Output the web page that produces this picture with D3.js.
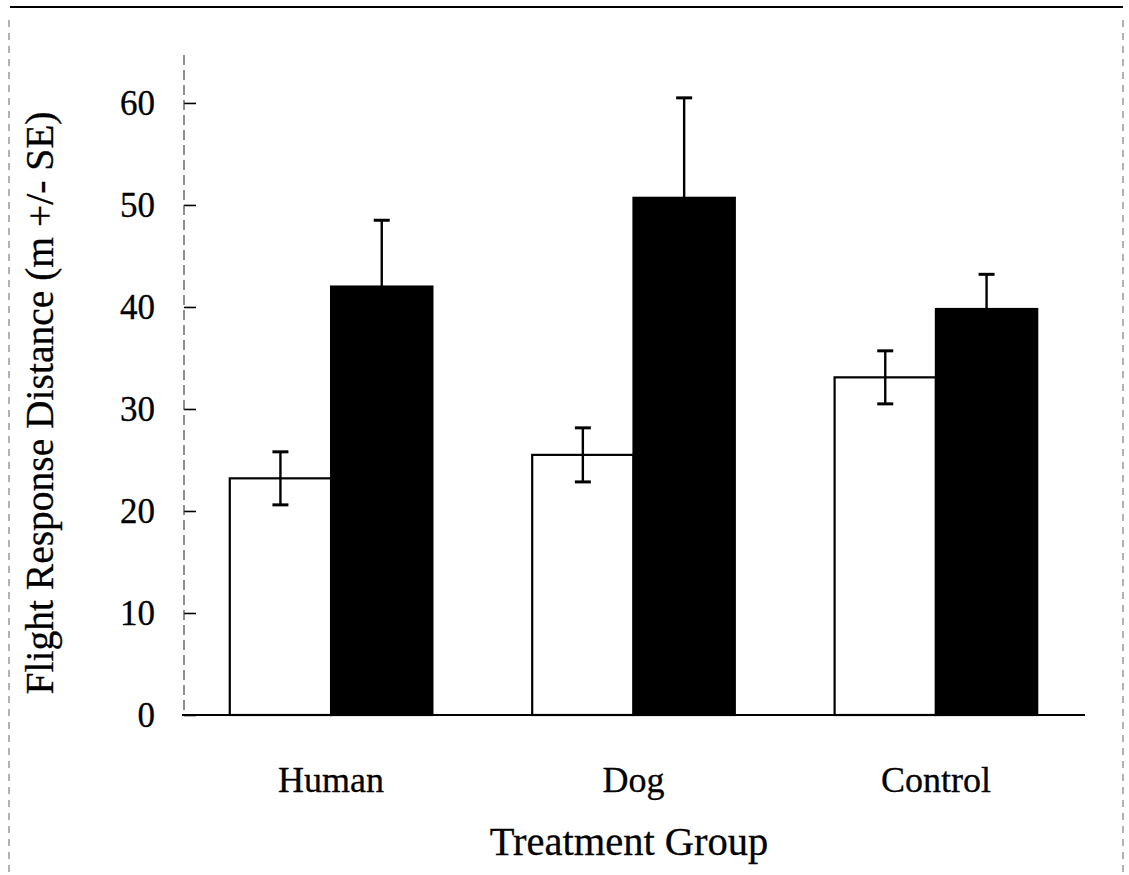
<!DOCTYPE html>
<html>
<head>
<meta charset="utf-8">
<script src="https://cdn.jsdelivr.net/npm/d3@7"></script>
<style>
  html, body { margin: 0; padding: 0; background: #fff; }
  svg { display: block; }
  text { font-family: "Liberation Serif", "Times New Roman", serif; fill: #000; stroke: #000; stroke-width: 0.3px; }
</style>
</head>
<body>
<svg id="chart" width="1129" height="875"></svg>
<script>
// Flight response distance by treatment group, two series per group
const categories = ["Human", "Dog", "Control"];
const seriesNames = ["open", "filled"];
const openMeans = [23.2, 25.5, 33.1];
const openSE = [2.6, 2.65, 2.6];
const filledMeans = [42.0, 50.7, 39.8];
const filledSE = [6.5, 9.8, 3.4];
const yTicks = [0, 10, 20, 30, 40, 50, 60];
const yLabel = "Flight Response Distance (m +/- SE)";
const xLabel = "Treatment Group";

const rows = [];
categories.forEach((c, i) => {
  rows.push({ cat: c, series: "open", mean: openMeans[i], se: openSE[i] });
  rows.push({ cat: c, series: "filled", mean: filledMeans[i], se: filledSE[i] });
});

const svg = d3.select("#chart");
const W = 1129, H = 875;

// outer frame: solid top rule, faint dashed sides
svg.append("line").attr("x1", 10).attr("x2", 1123).attr("y1", 7).attr("y2", 7)
  .attr("stroke", "#000").attr("stroke-width", 2);
[9, 1123].forEach(x => {
  svg.append("line").attr("x1", x).attr("x2", x).attr("y1", 20).attr("y2", H)
    .attr("stroke", "#666").attr("stroke-width", 1).attr("stroke-dasharray", "7,6");
});

const plot = { left: 184, right: 1085, top: 55, bottom: 715 };

const y = d3.scaleLinear().domain([0, 64.7]).range([plot.bottom, plot.top]);
const x0 = d3.scaleBand().domain(categories).range([182, 1085])
  .paddingInner(0.33).paddingOuter(0.158);
const x1 = d3.scaleBand().domain(seriesNames).range([0, x0.bandwidth()]).padding(0);

// y axis: dashed spine, inward ticks, labels on the left
const yAxis = d3.axisRight(y).tickValues(yTicks).tickSize(12).tickFormat("");
const yg = svg.append("g").attr("transform", `translate(${plot.left},0)`).call(yAxis);
yg.select(".domain").remove();
yg.selectAll(".tick line").attr("stroke", "#000").attr("stroke-width", 1.6);
svg.append("line").attr("x1", plot.left).attr("x2", plot.left)
  .attr("y1", plot.top).attr("y2", plot.bottom)
  .attr("stroke", "#444").attr("stroke-width", 1.2).attr("stroke-dasharray", "10,5");

svg.append("g").selectAll("text").data(yTicks).join("text")
  .attr("x", 155).attr("y", d => y(d)).attr("dy", "0.35em")
  .attr("text-anchor", "end").attr("font-size", 35)
  .text(d => d);

const barX = d => x0(d.cat) + x1(d.series);
const cx = d => barX(d) + x1.bandwidth() / 2;
const barStyle = sel => sel
  .attr("x", barX)
  .attr("y", d => y(d.mean))
  .attr("width", x1.bandwidth())
  .attr("height", d => y(0) - y(d.mean))
  .attr("fill", d => d.series === "open" ? "#fff" : "#000")
  .attr("stroke", "#000").attr("stroke-width", 2.2);

// open bars first, then error bars, then filled bars over their own lower whisker
svg.append("g").selectAll("rect").data(rows.filter(d => d.series === "open"))
  .join("rect").call(barStyle);

const eb = svg.append("g").attr("stroke", "#000").attr("stroke-width", 2.4);
eb.selectAll(".stem").data(rows).join("line").attr("class", "stem")
  .attr("x1", cx).attr("x2", cx)
  .attr("y1", d => y(d.mean + d.se)).attr("y2", d => y(d.mean - d.se));
eb.selectAll(".capTop").data(rows).join("line").attr("class", "capTop")
  .attr("x1", d => cx(d) - 8).attr("x2", d => cx(d) + 8)
  .attr("y1", d => y(d.mean + d.se)).attr("y2", d => y(d.mean + d.se))
  .attr("stroke-width", 3);
eb.selectAll(".capBot").data(rows).join("line").attr("class", "capBot")
  .attr("x1", d => cx(d) - 8).attr("x2", d => cx(d) + 8)
  .attr("y1", d => y(d.mean - d.se)).attr("y2", d => y(d.mean - d.se))
  .attr("stroke-width", 3);

svg.append("g").selectAll("rect").data(rows.filter(d => d.series === "filled"))
  .join("rect").call(barStyle);

// x axis baseline
svg.append("line").attr("x1", 182).attr("x2", plot.right)
  .attr("y1", y(0)).attr("y2", y(0))
  .attr("stroke", "#000").attr("stroke-width", 2);

// category labels
svg.append("g").selectAll("text").data(categories).join("text")
  .attr("x", d => x0(d) + x0.bandwidth() / 2)
  .attr("y", 792)
  .attr("text-anchor", "middle").attr("font-size", 36)
  .text(d => d);

// axis titles
svg.append("text").attr("x", 629).attr("y", 855)
  .attr("text-anchor", "middle").attr("font-size", 40.5)
  .text(xLabel);
svg.append("text")
  .attr("transform", "translate(53,403) rotate(-90)")
  .attr("text-anchor", "middle").attr("font-size", 39.5)
  .text(yLabel);
</script>
</body>
</html>
